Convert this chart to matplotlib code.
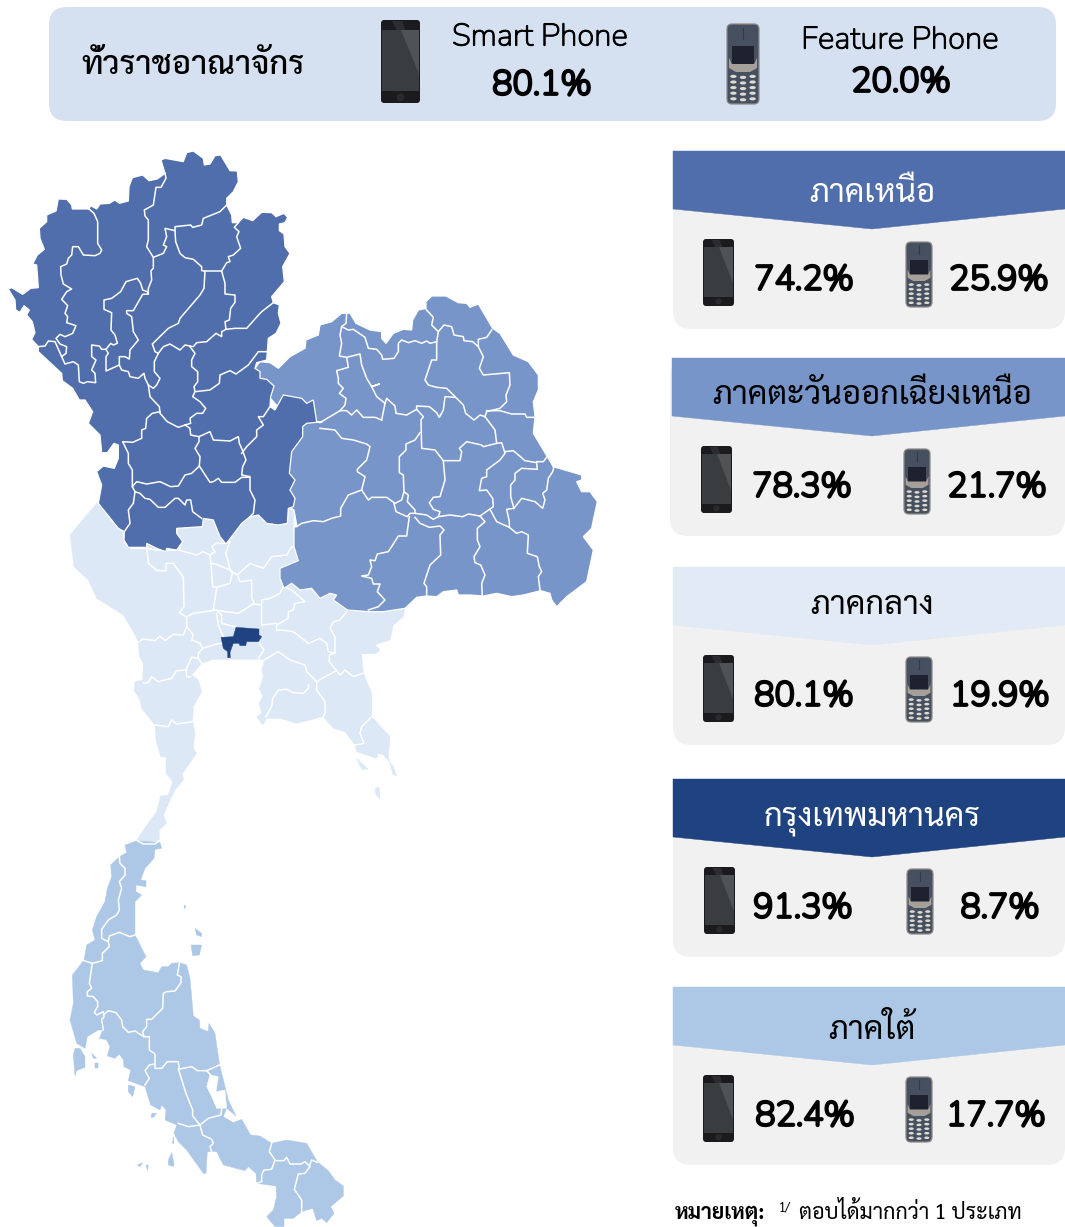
import matplotlib
matplotlib.use('Agg')
import matplotlib.pyplot as plt
import matplotlib.patheffects as pe
from matplotlib.patches import Polygon, FancyBboxPatch, Circle, Ellipse

# figures from the picture
regions = ['ภาคเหนือ', 'ภาคตะวันออกเฉียงเหนือ', 'ภาคกลาง', 'กรุงเทพมหานคร', 'ภาคใต้']
smart_pct = ['74.2%', '78.3%', '80.1%', '91.3%', '82.4%']
feature_pct = ['25.9%', '21.7%', '19.9%', '8.7%', '17.7%']
all_title = 'ทั่วราชอาณาจักร'
all_labels = ['Smart Phone', 'Feature Phone']
all_pct = ['80.1%', '20.0%']
note_head = 'หมายเหตุ:'
note_mark = '1/'
note_text = 'ตอบได้มากกว่า 1 ประเภท'

# map outlines, traced in 3x crops of the picture
north_outline = [(25,447),(35,443),(68,463),(92,445),(115,443),(110,375),(98,372),(112,345),(133,328),(120,295),(118,265),(140,245),(140,225),(168,213),(175,177),(200,178),(215,195),(217,207),(267,207),(272,197),(290,207),(300,192),(328,190),(345,180),(358,190),(385,183),(387,140),(397,113),(428,105),(447,122),(472,117),(495,100),(483,60),(495,55),(550,65),(560,38),(580,33),(610,55),(613,75),(630,72),(645,47),(662,45),(690,92),(712,93),(715,125),(700,155),(680,175),(680,195),(695,225),(697,248),(715,248),(730,232),(758,242),(785,217),(815,218),(828,230),(852,220),(863,232),(855,248),(838,252),(838,272),(852,282),(855,320),(870,340),(848,380),(853,425),(815,470),(820,488),(838,495),(835,520),(843,550),(828,580),(805,595),(800,660),(770,668),(765,685),(780,695),(780,715),(800,718),(822,738),(812,770),(810,800),(825,810),(850,765),(905,775),(920,790),(940,780),(950,845),(968,845),(920,850),(908,860),(908,890),(875,935),(868,1000),(885,1020),(870,1050),(885,1075),(880,1100),(865,1105),(862,1150),(835,1155),(800,1150),(775,1125),(750,1130),(725,1150),(710,1170),(678,1212),(660,1190),(640,1140),(610,1135),(607,1160),(530,1165),(530,1180),(548,1205),(530,1230),(500,1225),(497,1235),(470,1225),(440,1210),(440,1222),(385,1222),(372,1200),(373,1175),(355,1165),(295,1090),(305,1035),(290,995),(310,978),(343,985),(355,955),(355,915),(342,910),(322,938),(305,938),(300,885),(265,850),(278,815),(255,780),(238,780),(218,745),(187,722),(185,700),(115,635),(115,620),(95,598),(105,578),(97,545),(80,525),(88,510),(72,497),(60,517),(47,510),(45,480)]
north_borders = [
    [(267,207),(282,220),(293,245),(293,310),(305,330),(300,340),(285,347),(250,345),(235,320),(218,320),(215,345),(205,355),(200,372),(182,380),(183,405),(190,432),(215,447),(200,455),(185,478),(203,497),(195,520),(203,530),(200,548),(228,557),(218,580),(195,590),(180,583),(168,595),(180,612),(200,620),(198,640),(185,650),(165,605),(145,603),(135,618),(115,620)],
    [(185,650),(195,672),(220,665),(235,675),(238,725),(250,730),(262,725),(287,728),(285,700),(275,690),(288,660),(275,650),(275,615),(298,618),(305,628),(318,628),(325,640),(318,650),(318,693),(358,675),(358,650),(375,650),(388,657),(390,630),(415,600),(400,575),(395,530),(380,520),(380,512),(400,512),(428,463),(445,462),(442,455),(428,450),(422,430),(412,415),(378,425),(362,455),(335,475),(312,480),(312,508),(335,518),(333,570),(345,585),(352,610),(340,615),(332,610),(318,628)],
    [(495,100),(498,115),(483,142),(468,142),(460,195),(433,210),(435,228),(445,240),(445,300),(440,320),(460,352),(490,340),(500,320),(490,315),(500,290),(495,265),(525,272),(527,305),(540,340),(555,353),(580,358),(605,380),(605,392),(615,393),(612,445),(600,465),(540,535),(535,550),(505,565),(457,612),(465,635),(475,640),(463,665),(463,695),(480,715),(470,735),(460,745),(445,735),(435,715),(432,700),(415,715),(390,710),(385,695),(365,690),(358,675)],
    [(460,352),(460,385),(453,392),(455,420),(445,445),(445,462)],
    [(680,195),(660,215),(610,235),(605,255),(578,262),(572,255),(525,260),(525,272)],
    [(615,393),(665,393),(680,368),(690,365),(685,350),(700,345),(722,325),(710,290),(717,275),(703,262),(715,248)],
    [(665,393),(675,430),(675,462),(705,465),(705,487),(692,505),(688,540),(675,545),(678,568),(705,565),(740,565),(780,520),(785,515),(820,488)],
    [(678,568),(665,575),(665,590),(648,580),(620,605),(590,608),(580,620),(555,615),(540,630),(510,612),(490,620),(475,640)],
    [(570,620),(585,640),(575,660),(575,680),(593,695),(593,725),(582,740),(585,755),(630,750),(658,730),(660,705),(690,692),(708,702),(745,675),(775,635),(800,635)],
    [(585,755),(578,770),(600,785),(617,805),(608,820),(590,820),(570,835),(572,850),(555,855),(535,862),(502,845),(480,820),(478,800),(450,770),(445,735)],
    [(480,815),(457,820),(440,835),(437,865),(425,870),(425,895),(398,907),(368,905),(385,940),(385,970),(397,990),(397,1040),(410,1025),(440,1032),(480,1025),(512,1040),(535,1038),(555,1005),(575,1000),(598,978),(600,950),(585,925),(597,905),(597,890)],
    [(555,855),(570,865),(572,885),(597,890),(630,875),(640,900),(690,903),(715,890),(718,910),(725,925),(738,960),(728,980),(725,1005),(750,1010),(750,1050),(765,1080),(760,1120),(750,1130)],
    [(810,800),(790,830),(775,830),(790,855),(770,870),(770,890),(740,920),(725,940)],
    [(598,978),(630,1027),(640,1025),(655,1015),(665,1027),(705,1027),(725,1012),(748,1012)],
    [(397,1040),(405,1055),(420,1060),(435,1075),(450,1078),(475,1102),(495,1102),(525,1075),(535,1075),(555,1095),(560,1080),(572,1080),(578,1115),(605,1135)],
    [(405,1055),(400,1090),(385,1110),(390,1150),(373,1175)],
]

ne_outline = [(-45,265),(-30,245),(0,248),(25,265),(60,230),(105,205),(108,180),(145,165),(150,135),(185,125),(215,100),(240,100),(258,130),(300,150),(335,155),(335,175),(348,190),(370,160),(400,148),(425,150),(428,120),(445,90),(468,85),(468,65),(485,48),(528,48),(565,68),(590,70),(600,82),(625,72),(668,145),(690,160),(730,225),(775,245),(805,285),(805,330),(790,365),(795,410),(790,460),(820,510),(850,560),(935,585),(935,600),(920,605),(935,635),(960,635),(982,665),(970,720),(965,745),(940,770),(970,810),(950,905),(890,950),(860,980),(845,960),(840,940),(812,932),(760,945),(725,950),(680,940),(640,948),(600,945),(565,945),(560,930),(520,935),(500,950),(470,948),(440,952),(405,985),(340,995),(295,995),(232,990),(190,960),(200,945),(180,940),(150,955),(125,925),(90,930),(65,910),(42,925),(30,895),(30,865),(85,842),(72,800),(72,745),(80,735),(72,690),(40,670),(40,400),(-45,300)]
ne_borders = [
    [(230,100),(228,130),(215,140),(210,165),(215,190),(208,228),(230,232),(235,262),(200,272),(205,295),(205,310),(220,325),(208,340),(228,355),(225,375),(210,392),(150,428)],
    [(215,140),(235,150),(250,148),(285,172),(295,205),(320,208),(335,225),(338,238),(372,235),(385,215),(385,190),(395,180),(415,188),(435,182),(455,190),(470,183),(480,190),(500,185),(505,155),(485,135),(490,112),(468,88)],
    [(505,155),(522,135),(545,140),(552,165),(580,170),(582,182),(608,185),(625,200),(640,230),(628,265),(640,285),(718,278),(720,315),(708,345),(710,365),(690,385),(650,395),(645,410)],
    [(625,200),(625,178),(650,172),(665,150)],
    [(500,185),(500,240),(485,240),(465,300),(475,315),(500,322),(530,325),(555,350),(580,375),(587,400),(612,420),(630,405),(645,410),(675,450),(680,490)],
    [(650,392),(690,392),(725,402),(765,402),(770,412),(795,412)],
    [(230,232),(270,222),(275,255),(290,295),(305,320),(328,312),(305,320),(320,350),(345,370),(335,420)],
    [(210,392),(230,392),(245,405),(260,390),(280,412),(315,412),(335,420)],
    [(345,370),(350,355),(375,378),(378,400),(410,405),(440,388),(440,378),(478,380),(500,398),(508,412),(520,390),(525,350),(555,352)],
    [(440,388),(460,410),(453,420),(455,505),(495,510),(520,542),(570,542),(575,515),(568,505),(590,485),(635,495),(640,500),(680,490),(695,488),(705,520),(690,540),(650,570),(650,590),(635,595),(628,632),(650,630),(668,655),(670,680),(630,708),(595,702),(578,710),(540,705),(505,710),(490,718),(470,705),(435,700)],
    [(450,458),(435,480),(408,492),(408,510),(388,530),(388,578),(400,585),(402,635),(395,660),(375,670),(350,652),(305,652),(295,660),(275,630),(285,590),(262,575),(262,568),(290,540),(300,500),(290,492),(250,480),(215,475),(195,450),(150,445)],
    [(275,630),(235,645),(212,685),(212,708),(185,715),(160,725),(130,722),(95,730),(80,740)],
    [(402,635),(415,645),(412,665),(435,690),(435,700),(420,700),(412,710),(378,695),(372,670)],
    [(520,542),(525,600),(510,650),(490,652),(478,668),(490,688),(510,695),(505,710)],
    [(705,515),(730,512),(765,542),(800,548),(802,568),(755,565),(735,580),(735,600),(722,615),(722,650),(732,685),(755,655),(795,665),(818,685),(825,660),(818,640),(830,630),(835,595),(848,575),(852,560)],
    [(800,545),(820,545),(835,525),(850,560)],
    [(732,685),(710,688),(718,725),(718,742),(680,725),(660,688)],
    [(718,742),(740,760),(755,755),(775,765),(772,820),(802,830),(808,860),(815,875),(805,890),(810,930)],
    [(630,708),(645,725),(622,745),(622,780),(630,800),(612,830),(615,848),(632,855),(645,885),(635,910),(637,948)],
    [(435,712),(450,730),(478,742),(510,738),(522,750),(510,765),(512,825),(480,855),(462,910),(470,920),(470,948)],
    [(418,710),(410,768),(385,768),(368,795),(355,815),(322,822),(315,842),(300,840),(305,860),(295,885),(275,888),(305,895),(310,912),(330,912),(322,935),(345,960),(325,980),(295,990)],
]

central_outline = [(110,10),(30,105),(42,200),(85,240),(110,295),(190,345),(220,395),(235,425),(238,470),(250,490),(248,540),(225,545),(222,570),(240,600),(245,625),(285,675),(288,720),(302,770),(318,772),(318,820),(338,845),(325,885),(302,888),(290,935),(268,965),(230,1020),(298,1030),(298,990),(320,970),(310,945),(345,870),(370,840),(368,820),(410,760),(400,745),(405,700),(398,660),(400,620),(425,575),(415,540),(395,525),(425,490),(460,478),(615,478),(605,510),(610,530),(598,565),(608,590),(597,610),(605,640),(590,650),(608,675),(620,655),(660,655),(710,670),(750,660),(790,650),(820,685),(855,695),(885,735),(890,755),(950,775),(955,760),(970,765),(1000,800),(1010,828),(998,822),(990,790),(985,770),(990,710),(935,650),(935,580),(910,520),(905,462),(950,460),(960,450),(945,435),(990,420),(1000,375),(1030,350),(1035,320),(1000,310),(700,100),(700,20)]
central_islands = [
    [(890,775),(925,808),(905,808)],
    [(945,865),(958,862),(960,895),(948,885)],
]
central_borders = [
    [(190,100),(195,130),(215,145),(260,145),(265,180),(265,190),(292,212),(318,212),(318,190),(340,190),(370,232),(372,320),(358,338),(380,352),(380,380),(370,405),(340,403),(315,422),(300,408),(285,422),(250,417),(237,425)],
    [(262,145),(285,150),(310,150),(355,150),(410,165),(430,155),(450,165),(453,190),(470,193),(510,210),(505,185),(497,160),(510,125),(490,130),(470,130),(455,140),(465,155),(450,165)],
    [(358,150),(365,125),(348,105),(350,85),(400,75),(425,80)],
    [(453,190),(458,260),(470,262),(510,250),(517,220),(510,210),(532,225),(540,245),(575,240),(575,290),(582,310),(535,340),(460,330),(470,265)],
    [(582,312),(605,315),(605,375),(650,370)],
    [(605,315),(605,300),(630,295),(660,280),(670,258),(695,270),(735,305),(705,310),(700,330),(685,335),(685,355),(650,375),(650,390),(665,390),(700,395),(745,430),(780,415),(800,430),(805,455),(825,460),(825,410),(810,385),(820,365),(840,360),(860,335)],
    [(532,225),(570,190),(610,205),(635,170),(680,165),(695,140),(708,140)],
    [(380,350),(400,340),(470,330),(485,345),(485,370),(525,380)],
    [(470,340),(475,375),(490,410)],
    [(380,380),(400,405),(395,420),(420,430),(428,445),(415,460),(415,475),(425,490)],
    [(428,445),(470,432),(485,430)],
    [(395,472),(415,475)],
    [(395,472),(378,510),(380,530),(392,530)],
    [(250,550),(265,548),(275,530),(295,545),(335,535),(350,512),(380,510)],
    [(285,675),(325,680),(335,660),(350,672),(398,665)],
    [(595,475),(612,450),(600,432),(595,425)],
    [(615,478),(655,455),(690,480),(735,495),(740,515),(770,545),(795,530),(830,512),(808,485),(808,465),(825,460)],
    [(770,545),(770,570),(795,605),(795,640),(790,650)],
    [(745,555),(745,565),(730,580),(700,578),(680,568),(655,570),(638,595),(635,620),(618,650)],
    [(830,512),(840,525),(855,510),(880,530),(908,520)],
    [(935,650),(905,680),(900,700),(912,730),(885,735)],
]

south_outline = [(232,32),(195,45),(200,68),(178,80),(152,105),(155,140),(142,175),(135,215),(110,260),(97,300),(105,330),(80,345),(72,390),(37,435),(40,520),(30,570),(50,640),(75,655),(82,620),(115,600),(128,600),(118,625),(140,630),(150,650),(142,678),(165,685),(178,672),(190,690),(192,710),(212,720),(205,752),(255,770),(272,825),(300,840),(305,825),(318,840),(315,870),(350,885),(342,910),(355,935),(380,960),(430,1030),(438,1030),(442,965),(470,965),(490,1005),(555,1022),(565,1010),(588,1030),(590,1060),(648,1068),(650,1100),(640,1140),(620,1160),(645,1190),(672,1190),(672,1165),(700,1165),(725,1145),(758,1135),(770,1172),(785,1165),(800,1178),(822,1150),(812,1130),(850,1098),(850,1068),(825,1050),(805,1022),(772,995),(740,940),(680,930),(635,940),(600,918),(572,915),(545,868),(520,878),(490,860),(500,835),(528,858),(505,810),(478,700),(465,610),(447,580),(445,605),(420,595),(418,570),(400,558),(390,445),(380,405),(360,398),(335,400),(325,410),(305,410),(295,428),(250,420),(240,400),(258,380),(238,340),(225,315),(225,250),(225,215),(245,195),(228,185),(228,165),(258,170),(258,152),(242,150),(255,115),(282,85),(285,58),(305,55),(300,38)]
south_lake = [(450,735),(475,740),(468,785),(495,780),(500,835),(470,835),(455,800),(440,770)]
south_islands = [
    [(45,655),(60,655),(75,680),(75,712),(50,722),(45,738),(42,700),(40,675)],
    [(95,670),(110,685),(100,685)],
    [(105,698),(115,698),(115,715),(105,715)],
    [(205,765),(225,770),(218,800),(205,785)],
    [(275,850),(290,850),(280,862),(273,862)],
    [(340,920),(342,940),(337,940)],
    [(335,968),(342,1000),(340,1010),(325,1005),(325,990)],
    [(232,1005),(248,998),(240,1010)],
    [(258,1005),(265,1005),(262,1020)],
    [(393,345),(425,345),(418,375),(398,377)],
    [(405,295),(425,310),(425,320),(410,315)],
    [(372,225),(378,228),(374,237)],
]
south_borders = [
    [(178,80),(180,100),(195,115),(195,135),(178,155),(185,175),(175,210),(178,240),(170,255),(145,270),(125,298),(125,325),(145,335),(148,350),(127,370),(127,392),(97,400),(72,392)],
    [(145,335),(148,318),(178,307),(210,320),(225,315)],
    [(97,400),(88,460),(95,475),(82,485),(82,498),(100,500),(113,515),(113,530),(103,547),(110,555),(130,545),(132,562),(125,567),(130,600)],
    [(130,555),(145,542),(168,548),(185,570),(188,590),(205,607),(225,603),(252,620),(268,620),(268,660),(285,672),(285,715),(305,715),(322,695),(355,695),(358,717),(395,710),(412,722),(440,722),(478,705)],
    [(252,620),(248,605),(260,590),(260,568),(275,568),(308,535),(310,490),(320,485),(345,483),(363,458),(363,440),(352,435),(358,400)],
    [(285,702),(268,705),(255,722),(268,745),(255,765)],
    [(355,717),(378,790),(398,840),(398,858),(420,885),(385,890),(355,880)],
    [(420,885),(445,865),(483,855),(485,835)],
    [(440,722),(452,735)],
    [(420,885),(428,915),(455,928),(460,940),(450,950),(455,965)],
    [(635,940),(628,965),(645,990),(635,1018),(612,1020),(605,1035),(605,1055),(590,1060)],
    [(645,992),(672,992),(680,982),(690,1002),(722,1002),(735,995),(748,1008),(755,990),(772,997)],
    [(750,1010),(735,1030),(715,1032),(703,1078),(725,1110),(725,1145)],
    [(232,32),(250,42),(285,42),(298,32)],
]
bangkok_outline = [(528,382),(597,387),(597,405),(605,410),(595,425),(560,425),(557,437),(540,437),(537,430),(520,430),(510,457),(511,473),(503,473),(503,455),(490,445),(483,412),(520,410)]

# colours and layout
NORTH_C = '#4F6EAB'
NE_C = '#7895CA'
CENTRAL_C = '#DCE8F5'
BKK_C = '#1F4380'
SOUTH_C = '#ADC8E6'
head_colors = [NORTH_C, NE_C, '#E1EAF5', BKK_C, SOUTH_C]
head_text = ['white', 'black', 'black', 'white', 'black']
PANEL_C = '#F1F1F1'

panel_top = [151, 358, 567, 779, 987]
panel_left = [673, 670, 673, 673, 673]
head_left = [673, 672, 673, 673, 673]
title_y = [193, 395, 605, 820, 1030]
smart_box = [(703, 239), (701, 446), (703, 655), (704, 867), (703, 1075)]
feat_box = [(906, 242), (904, 449), (906, 657), (907, 869), (906, 1077)]
smart_tx = [804, 802, 804, 803, 805]
feat_tx = [999, 997, 1000, 1000, 996]
value_y = [280, 487, 696, 908, 1116]

THAI = ['Sarabun', 'Noto Sans Thai Looped', 'DejaVu Sans']
LATIN = ['Nunito', 'Noto Sans', 'DejaVu Sans']

plt.rcParams['font.family'] = THAI

fig = plt.figure(figsize=(10.65, 12.27), dpi=100)
ax = fig.add_axes([0, 0, 1, 1])
ax.set_xlim(0, 1065)
ax.set_ylim(1227, 0)
ax.axis('off')


def crop(pts, x0, y0):
    return [(x0 + x / 3, y0 + y / 3) for x, y in pts]


def fill(pts, color, z=2, edge=None):
    ax.add_patch(Polygon(pts, closed=True, fc=color, ec=edge or color, lw=0.9 if edge else 0.3, zorder=z))


def borders(lines, x0, y0, z):
    for ln in lines:
        p = crop(ln, x0, y0)
        ax.plot([a[0] for a in p], [a[1] for a in p], color='white', lw=1.1,
                solid_joinstyle='round', zorder=z)


def heavy(x, y, s, size, stroke):
    # Nunito here is the thin default of a variable font, so the weight comes from a stroke
    t = ax.text(x, y, s, fontsize=size, family=LATIN, color='black', ha='center', va='center', zorder=8)
    t.set_path_effects([pe.withStroke(linewidth=stroke, foreground='black')])
    return t


def smartphone(x0, y0, w, h):
    ax.add_patch(FancyBboxPatch((x0 + 2, y0 + 2), w - 4, h - 4, boxstyle='round,pad=2,rounding_size=3',
                                fc='#1B1B1E', ec='none', zorder=5))
    sx, sy, sw, sh = x0 + 1, y0 + h * 0.12, w - 2, h * 0.74
    ax.add_patch(Polygon([(sx, sy), (sx + sw, sy), (sx + sw, sy + sh), (sx, sy + sh)],
                         fc='#3A3D40', ec='none', zorder=6))
    ax.add_patch(Polygon([(x0 + w * 0.5, sy), (sx + sw, sy), (sx + sw, sy + sh * 0.72)],
                         fc='#505356', ec='none', zorder=7))
    ax.add_patch(Polygon([(x0 + w * 0.28, y0 + 1), (x0 + w * 0.55, y0 + 1), (x0 + w * 0.62, sy), (x0 + w * 0.4, sy)],
                         fc='#2D2D31', ec='none', zorder=7))
    ax.add_patch(Circle((x0 + w / 2, y0 + h * 0.93), w * 0.1, fc='#2A2A2D', ec='none', zorder=7))


def featurephone(x0, y0, w, h):
    ax.add_patch(FancyBboxPatch((x0 + 5, y0 + 5), w - 10, h - 10, boxstyle='round,pad=5,rounding_size=5',
                                fc='#465060', ec='#8E8A86', lw=0.9, zorder=5))
    ax.plot([x0 + w / 2, x0 + w / 2], [y0 + h * 0.05, y0 + h * 0.19], color='#333A45', lw=0.8, zorder=6)
    ax.add_patch(Polygon([(x0 + w * 0.15, y0 + h * 0.27), (x0 + w * 0.85, y0 + h * 0.27),
                          (x0 + w * 0.85, y0 + h * 0.5), (x0 + w * 0.15, y0 + h * 0.5)],
                         fc='#20212E', ec='none', zorder=6))
    # silver arc under the screen
    ax.add_patch(Polygon([(x0 + w * 0.06, y0 + h * 0.42), (x0 + w * 0.15, y0 + h * 0.5), (x0 + w * 0.85, y0 + h * 0.5),
                          (x0 + w * 0.94, y0 + h * 0.42), (x0 + w * 0.94, y0 + h * 0.55), (x0 + w * 0.72, y0 + h * 0.6),
                          (x0 + w * 0.28, y0 + h * 0.6), (x0 + w * 0.06, y0 + h * 0.55)],
                         fc='#A5A09A', ec='none', zorder=6))
    for r in range(5):
        for c in range(3):
            dy = 0.012 if c == 1 else 0
            ax.add_patch(Ellipse((x0 + w * (0.2 + c * 0.3), y0 + h * (0.655 + r * 0.07 + dy)), w * 0.2, h * 0.04,
                                 fc='#DEDBD0', ec='none', zorder=7))


# map, back to front so shared edges stay tidy
fill(crop(central_outline, 60, 500), CENTRAL_C, 2)
for isl in central_islands:
    fill(crop(isl, 60, 500), CENTRAL_C, 2)
fill(crop(south_outline, 60, 830), SOUTH_C, 2)
fill(crop(south_lake, 60, 830), 'white', 2.1)
for isl in south_islands:
    fill(crop(isl, 60, 830), SOUTH_C, 2)
borders(central_borders, 60, 500, 2.5)
borders(south_borders, 60, 830, 2.5)
fill(crop(bangkok_outline, 60, 500), BKK_C, 2.6)
fill(crop(ne_outline, 270, 280), NE_C, 3, edge='white')
borders(ne_borders, 270, 280, 3.1)
fill(crop(north_outline, 0, 140), NORTH_C, 4, edge='white')
borders(north_borders, 0, 140, 4.1)

# top bar
ax.add_patch(FancyBboxPatch((67, 25), 971, 78, boxstyle='round,pad=18,rounding_size=18',
                            fc='#D5E1F1', ec='none', zorder=1))
ax.text(193, 66, all_title, fontsize=23.5, fontweight='medium', family=THAI, ha='center', va='center', zorder=6)
smartphone(381, 20, 39, 83)
featurephone(727, 24, 32, 80)
heavy(540, 37, all_labels[0], 22.5, 0.7)
heavy(900, 40, all_labels[1], 22.5, 0.7)
heavy(542, 85, all_pct[0], 24.5, 2.0)
heavy(901, 82, all_pct[1], 24.5, 2.0)

# region panels
for i, name in enumerate(regions):
    top = panel_top[i]
    ax.add_patch(FancyBboxPatch((panel_left[i] + 18, top + 18), 1065 - panel_left[i] - 36, 178 - 36,
                                boxstyle='round,pad=18,rounding_size=18', fc=PANEL_C, ec='none', zorder=1))
    hl = head_left[i]
    fill([(hl, top), (1065, top), (1065, top + 58), (872, top + 78), (hl, top + 58)], head_colors[i], 2)
    ax.text(872, title_y[i], name, color=head_text[i], fontsize=23.5, fontweight='normal', family=THAI,
            ha='center', va='center', zorder=6)
    smartphone(smart_box[i][0], smart_box[i][1], 31, 67)
    featurephone(feat_box[i][0], feat_box[i][1], 26, 65)
    heavy(smart_tx[i], value_y[i], smart_pct[i], 24.5, 2.0)
    heavy(feat_tx[i], value_y[i], feature_pct[i], 24.5, 2.0)

# footnote
ax.text(675, 1218, note_head, fontsize=15.3, fontweight='bold', family=THAI, ha='left', va='baseline', zorder=6)
ax.text(779, 1212, note_mark, fontsize=9, family=THAI, ha='left', va='baseline', zorder=6)
ax.text(799, 1219, note_text, fontsize=15.5, family=THAI, ha='left', va='baseline', zorder=6)

fig.savefig('out.png', dpi=100)
